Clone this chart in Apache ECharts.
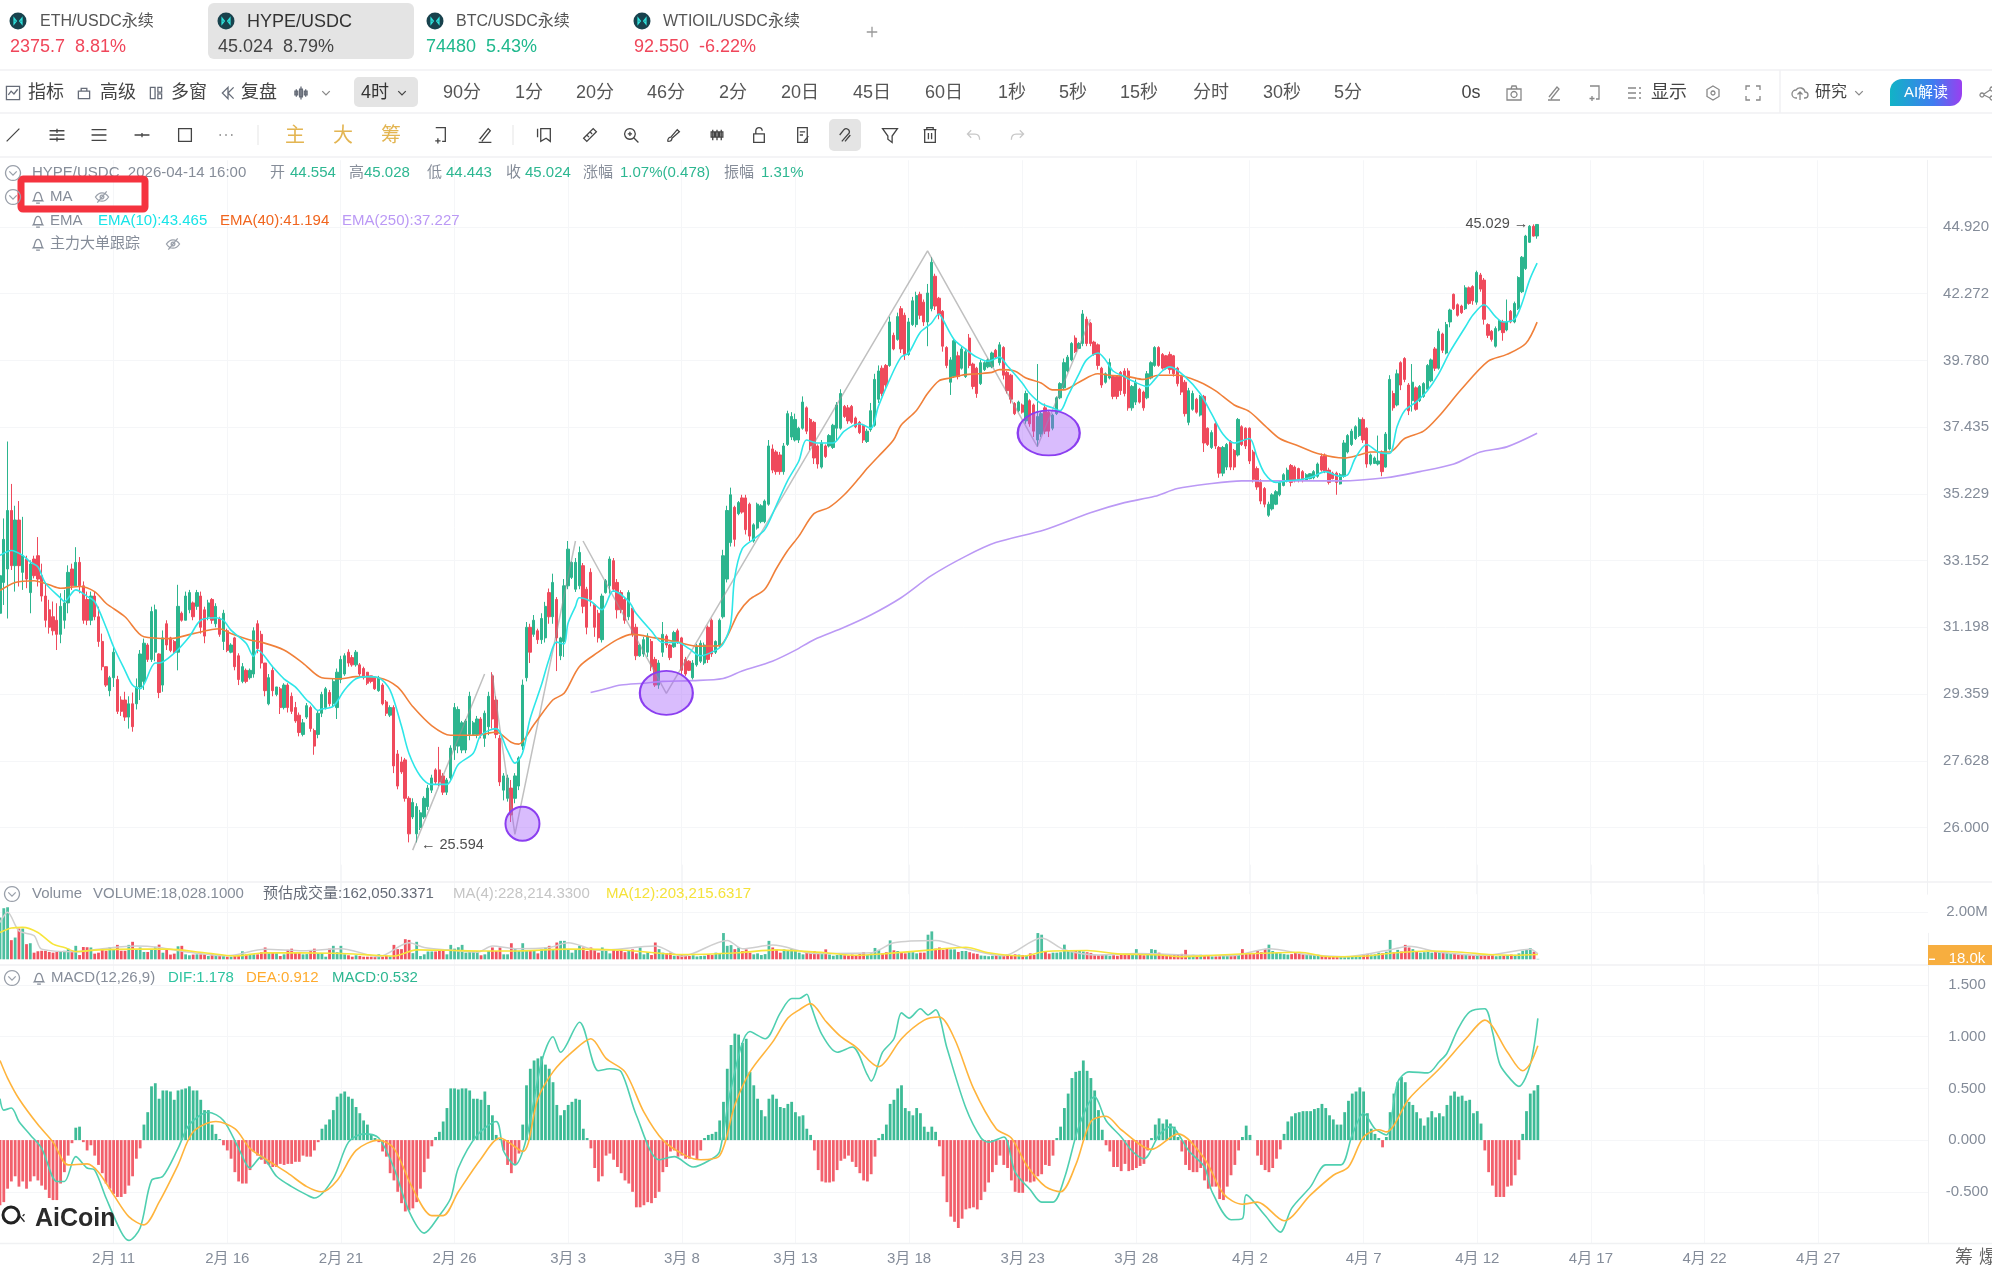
<!DOCTYPE html>
<html>
<head>
<meta charset="utf-8">
<title>HYPE/USDC</title>
<script src="https://cdn.jsdelivr.net/npm/echarts@6/dist/echarts.min.js"></script>
<style>
html,body{margin:0;padding:0;background:#fff;}
#chart{width:1992px;height:1271px;}
#icons{position:absolute;left:0;top:0;pointer-events:none;}
</style>
</head>
<body>
<div id="chart"></div>
<svg id="icons" width="1992" height="1271" xmlns="http://www.w3.org/2000/svg"></svg>
<script>
// 价格坐标刻度(对数)
var priceTicks = [26.000,27.628,29.359,31.198,33.152,35.229,37.435,39.780,42.272,44.920];

// K线 4小时, 2月6日 00:00 开始
var opens = [31.6,32.5,32.9,34.7,33.0,34.4,32.8,33.2,32.2,33.2,
33.3,32.7,32.1,31.7,31.5,31.4,31.0,31.4,31.9,32.9,
32.4,33.1,32.4,32.0,31.4,32.1,31.5,30.8,30.1,29.45,
29.8,29.75,29.2,29.2,28.75,29.1,29.1,29.55,29.7,30.7,
30.3,30.5,30.45,29.6,31.3,30.9,30.8,30.5,31.6,31.4,
31.7,31.9,31.8,32.1,31.7,31.5,32.0,31.3,31.45,30.8,
31.1,30.5,30.9,30.4,29.7,30.0,29.8,29.9,31.3,31.0,
30.2,29.1,30.0,29.35,29.5,29.0,29.6,29.3,29.0,28.8,
28.3,28.75,29.0,28.4,28.3,28.85,29.0,29.4,29.1,29.0,
29.75,29.9,30.5,30.35,30.15,30.15,30.05,29.95,29.85,29.8,
29.45,29.6,29.15,28.8,29.0,27.8,27.6,27.65,26.7,26.25,
25.85,26.0,26.25,26.5,26.9,27.4,27.4,27.25,26.85,27.2,
27.9,28.0,27.9,27.9,28.3,28.3,28.3,28.7,28.2,28.5,
29.85,29.2,28.2,26.9,26.7,26.95,26.7,27.0,28.0,29.8,
31.2,31.0,31.1,30.85,30.9,32.2,31.5,32.0,30.4,30.8,
32.4,32.65,32.3,32.4,33.0,32.3,32.8,31.85,31.6,30.85,
32.2,32.4,33.15,32.5,32.2,32.0,31.5,31.75,31.2,30.4,
30.45,30.5,30.8,30.3,29.6,30.5,30.95,30.7,30.65,31.1,
30.9,30.3,30.25,29.8,30.15,30.25,30.2,31.2,31.4,30.5,
30.7,31.5,32.6,33.7,34.8,34.6,35.1,35.1,34.9,33.75,
34.15,34.35,34.35,34.9,36.7,36.6,36.5,35.95,36.85,37.1,
37.0,37.0,37.4,38.1,37.7,37.6,36.8,36.1,36.8,36.8,
36.75,37.4,37.4,38.15,38.1,38.15,37.75,37.6,37.5,36.95,
37.35,37.5,38.4,39.5,39.6,39.6,40.7,40.55,41.7,41.45,
40.0,41.1,41.1,42.25,41.95,41.2,41.7,42.95,42.1,41.6,
40.25,39.0,39.2,39.95,39.5,39.2,40.6,39.65,39.5,38.95,
39.45,39.55,39.55,40.15,39.7,40.25,39.35,39.25,38.25,38.0,
38.2,37.65,38.35,38.2,37.0,37.2,38.1,37.95,37.4,37.9,
38.45,38.8,39.4,39.8,40.6,40.22,40.4,41.3,41.15,40.45,
40.35,39.5,39.0,39.15,39.2,39.2,39.35,39.4,39.4,38.1,
38.3,38.75,38.65,38.45,39.15,39.6,40.25,40.0,39.95,40.0,
39.95,39.5,39.2,39.0,37.6,38.05,38.4,37.85,38.5,37.4,
36.75,37.55,36.75,35.9,36.1,36.95,36.65,36.5,37.45,37.4,
37.4,36.6,36.05,35.6,35.4,34.55,34.75,34.9,35.2,35.5,
35.65,36.15,36.1,36.05,35.95,35.68,35.72,35.75,35.8,36.45,
36.5,36.0,35.9,35.9,35.55,35.8,36.6,36.85,37.05,37.15,
37.7,37.4,36.2,36.22,36.2,36.6,36.1,36.7,38.6,38.2,
39.7,39.85,38.9,38.35,38.8,38.35,38.5,38.75,39.05,40.2,
39.5,40.75,40.05,41.2,42.25,41.85,41.8,41.7,42.5,42.55,
41.95,43.0,42.8,41.1,40.85,40.3,40.9,41.2,40.9,41.6,
41.2,41.7,42.35,43.25,44.3,44.95,44.554];
var closes = [32.7,33.8,34.7,33.0,34.4,33.0,33.3,32.6,33.05,32.7,
32.6,32.1,31.4,31.2,31.1,31.0,31.8,31.9,32.8,32.4,
33.1,32.4,31.4,31.4,32.1,31.5,30.8,30.1,29.6,29.8,
30.5,28.9,28.9,28.75,29.1,28.5,29.55,30.45,30.75,30.3,
31.65,31.7,29.4,30.9,30.7,30.55,30.5,31.8,31.4,32.1,
32.2,31.5,32.2,31.2,30.95,31.9,31.4,31.8,31.0,31.6,
30.55,30.7,30.1,29.75,30.1,29.7,30.0,31.1,30.6,30.2,
29.45,29.8,29.45,29.55,29.0,29.6,29.0,28.9,28.65,28.35,
28.6,29.05,28.45,28.0,28.85,29.35,29.5,29.1,29.7,29.95,
30.3,30.4,30.2,30.15,30.5,29.9,29.8,29.65,29.7,29.5,
29.8,29.1,28.85,29.0,27.5,27.0,27.35,26.7,25.85,26.6,
26.5,26.35,26.7,26.95,27.2,27.1,27.1,26.85,27.15,27.95,
29.0,28.95,28.6,28.65,29.3,28.6,28.7,28.3,28.85,29.3,
28.7,28.3,27.1,27.25,27.2,26.3,27.25,27.7,29.6,31.2,
30.5,31.4,30.85,31.45,31.8,31.5,32.5,30.9,30.9,32.4,
33.5,33.1,33.1,33.4,31.8,31.2,32.0,31.2,30.9,32.1,
32.55,33.2,32.3,31.7,31.7,31.4,32.2,31.0,30.4,30.7,
30.85,30.95,30.1,29.6,30.2,31.0,30.7,30.35,31.05,30.8,
30.0,29.9,30.0,30.2,30.65,30.75,30.7,30.3,30.45,30.8,
31.4,33.3,34.7,35.2,33.8,34.95,34.65,34.1,33.9,34.25,
34.9,34.85,35.0,36.8,36.0,35.95,35.95,36.8,37.9,37.8,
37.7,37.4,38.3,37.3,36.8,36.4,36.2,36.9,36.45,37.15,
37.5,38.2,38.6,37.8,37.65,37.6,37.45,37.25,37.0,37.3,
38.0,39.1,39.4,38.6,38.9,41.2,40.2,41.4,40.2,40.0,
41.2,42.0,42.2,41.45,41.2,42.3,43.5,41.8,41.5,40.3,
39.6,39.8,40.5,39.2,40.2,40.1,39.6,38.85,38.6,39.7,
39.7,39.8,40.05,39.9,40.35,39.25,38.7,38.4,37.9,38.3,
37.95,38.6,37.55,37.3,37.8,37.9,37.3,37.3,37.85,38.45,
38.95,39.7,39.9,40.4,40.1,40.4,41.5,40.4,40.4,40.0,
39.6,38.9,39.3,39.7,38.5,38.5,38.7,38.6,38.1,38.85,
39.0,38.3,38.1,39.3,39.7,40.25,39.6,39.5,39.5,39.45,
39.3,38.95,38.65,37.9,38.7,38.6,37.95,38.5,36.9,36.85,
37.25,36.8,35.9,36.75,36.85,36.1,36.1,37.7,36.85,36.8,
36.3,35.7,35.45,35.0,34.9,34.9,35.2,35.3,35.6,35.85,
36.0,35.6,35.65,35.7,35.7,35.85,35.88,35.95,36.2,36.0,
35.95,35.6,35.72,35.6,35.85,36.9,37.15,37.3,37.45,37.7,
37.0,36.2,36.5,36.4,36.3,35.95,37.2,39.1,38.1,39.3,
38.9,39.1,38.0,39.0,38.05,38.85,38.95,39.6,39.8,39.5,
40.85,40.15,41.1,41.65,41.7,41.45,41.55,42.5,41.9,42.0,
43.1,42.45,41.3,40.7,40.55,40.95,41.25,40.8,41.2,41.2,
41.9,42.9,43.7,44.55,44.95,44.55,45.024];
var lows = [31.02,31.84,31.45,32.87,32.23,32.38,32.28,32.33,31.6,32.62,
32.38,31.94,31.2,31.02,30.97,30.56,30.75,31.16,31.6,32.28,
32.38,32.18,31.3,31.26,31.26,31.4,30.65,30.0,29.55,29.3,
29.55,28.83,28.78,28.65,28.45,28.37,28.95,29.2,29.47,30.23,
30.23,30.25,29.25,29.42,30.56,30.5,30.47,30.0,31.36,31.4,
31.6,31.4,31.7,31.02,30.75,31.4,31.3,31.2,30.93,30.56,
30.5,30.47,30.0,29.6,29.65,29.65,29.75,29.8,30.47,30.05,
29.3,29.06,29.3,29.3,28.83,28.95,28.87,28.83,28.6,28.25,
28.25,28.7,28.37,27.78,28.2,28.75,28.95,29.03,29.03,28.7,
29.65,29.85,30.1,30.1,30.1,29.85,29.75,29.6,29.65,29.47,
29.42,29.06,28.78,28.75,27.32,26.92,27.3,26.62,25.65,26.2,
25.65,25.94,26.2,26.42,26.83,27.03,27.0,26.78,26.78,27.12,
27.65,27.82,27.82,27.82,28.15,28.28,28.2,28.2,27.98,28.28,
28.45,28.2,27.0,26.65,26.62,26.13,26.58,26.9,27.9,29.7,
30.2,30.93,30.73,30.73,30.77,31.3,31.3,29.98,30.28,30.37,
32.3,32.6,32.22,32.3,31.6,31.0,31.8,30.93,30.77,30.77,
32.17,32.17,32.22,31.45,31.6,31.3,31.4,30.93,30.28,30.37,
30.37,30.37,29.98,29.55,29.5,30.37,30.62,30.28,30.62,30.73,
29.9,29.85,29.98,29.75,30.1,30.2,30.15,30.2,30.37,30.45,
30.62,31.45,32.5,33.58,33.58,34.55,34.6,33.95,33.75,33.7,
34.1,34.3,34.3,34.85,35.9,35.85,35.85,35.85,36.8,37.0,
36.95,36.9,37.35,37.2,36.66,36.2,36.05,36.05,36.4,36.75,
36.7,37.0,37.35,37.75,37.55,37.55,37.4,37.2,36.9,36.9,
37.28,37.45,38.27,38.5,38.8,39.55,40.15,40.5,40.05,39.8,
39.95,41.05,41.0,41.3,41.05,40.3,41.6,41.65,41.3,40.1,
39.5,38.55,39.15,39.1,39.45,39.15,39.5,38.75,38.45,38.9,
39.4,39.5,39.5,39.85,39.6,39.1,38.6,38.25,37.85,37.95,
37.9,37.55,37.45,37.1,36.78,37.1,37.2,37.1,37.33,37.85,
38.4,38.75,39.35,39.75,40.05,40.2,40.3,40.3,40.3,39.95,
39.45,38.8,38.95,39.1,38.4,38.4,38.55,38.5,38.0,38.0,
38.2,38.25,38.0,38.4,39.1,39.55,39.55,39.45,39.45,39.3,
39.2,38.85,38.55,37.8,37.5,38.0,37.9,37.8,36.6,36.8,
36.7,36.7,35.75,35.8,36.0,36.0,36.0,36.45,36.8,36.7,
36.2,35.6,35.36,34.9,34.8,34.5,34.7,34.87,35.15,35.47,
35.6,35.47,35.6,35.6,35.6,35.65,35.7,35.7,35.75,35.95,
35.9,35.53,35.7,35.2,35.53,35.75,36.55,36.8,37.0,37.1,
36.9,36.08,36.15,36.2,36.15,35.8,36.08,36.65,38.0,38.15,
38.72,39.0,37.85,37.97,38.0,38.3,38.45,38.7,39.0,39.4,
39.45,40.05,40.0,41.0,41.65,41.4,41.5,41.65,41.85,41.85,
41.85,42.35,41.1,40.6,40.47,40.25,40.85,40.5,40.85,41.15,
41.15,41.65,42.3,43.2,44.27,44.53,44.443];
var highs = [33.36,34.45,36.95,35.55,34.85,35.0,34.5,33.3,33.16,33.3,
33.87,33.06,32.48,31.99,31.94,31.89,32.18,32.28,33.01,33.06,
33.56,33.26,32.53,32.23,32.23,32.23,31.79,31.02,30.1,29.85,
30.65,29.85,29.3,29.42,29.3,29.4,29.78,30.56,30.88,30.75,
31.79,31.85,30.47,31.11,31.4,30.93,30.84,32.43,31.65,32.23,
32.28,31.94,32.28,32.23,31.79,31.99,32.04,31.89,31.5,31.7,
31.16,30.75,30.93,30.47,30.2,30.05,30.05,31.2,31.4,31.1,
30.2,29.9,30.1,29.55,29.55,29.65,29.65,29.4,29.15,28.87,
28.7,29.12,29.05,28.45,28.92,29.42,29.55,29.47,29.78,30.05,
30.4,30.47,30.58,30.42,30.56,30.2,30.1,29.95,29.85,29.8,
29.85,29.65,29.2,29.06,29.06,27.9,27.73,27.7,26.75,26.7,
26.58,26.42,26.75,27.03,27.28,27.44,27.98,27.32,27.2,28.02,
29.12,29.03,28.65,28.7,29.42,28.65,28.78,28.75,28.92,29.42,
29.95,29.3,28.28,27.32,27.28,27.15,27.32,27.74,29.75,31.35,
31.3,31.55,31.16,31.6,31.93,32.32,32.76,32.07,30.93,32.6,
33.75,33.13,33.23,33.58,33.08,32.37,32.92,31.88,31.7,32.17,
32.6,33.28,33.23,32.6,32.27,32.07,32.27,31.8,31.3,30.73,
30.93,31.03,30.87,30.37,30.28,31.35,31.0,30.73,31.1,31.16,
30.93,30.37,30.28,30.28,30.73,30.83,30.77,31.25,31.45,30.83,
31.45,33.48,34.85,35.43,34.85,35.0,35.2,35.2,34.95,34.3,
34.95,34.9,35.05,37.0,36.85,36.66,36.6,36.9,38.0,37.95,
37.9,37.45,38.5,38.15,37.75,37.65,36.85,37.0,36.85,37.2,
37.55,38.3,38.75,38.2,38.2,38.2,37.8,37.65,37.55,37.38,
38.27,39.3,39.6,39.6,39.65,41.4,40.8,41.55,41.8,41.55,
41.35,42.15,42.35,42.35,42.05,42.65,43.7,43.05,42.15,41.65,
40.3,39.9,40.6,40.1,40.3,40.2,40.75,39.7,39.55,39.8,
39.75,39.85,40.1,40.2,40.45,40.3,39.4,39.3,38.3,38.35,
38.25,38.7,38.4,38.25,39.65,37.98,38.25,38.0,37.9,38.5,
39.0,39.85,39.98,40.45,40.7,40.45,41.65,41.4,41.2,40.5,
40.4,39.55,39.35,39.85,39.25,39.25,39.4,39.5,39.5,38.9,
39.1,38.8,38.7,39.4,39.75,40.3,40.3,40.05,39.98,40.1,
39.98,39.55,39.25,39.08,38.8,38.7,38.45,38.55,38.55,37.43,
37.33,37.6,36.8,36.8,36.9,37.0,36.7,37.75,37.5,37.43,
37.43,36.67,36.12,35.7,35.45,34.98,35.25,35.35,35.65,35.9,
36.08,36.2,36.15,36.08,36.0,35.9,35.9,36.0,36.25,36.55,
36.55,36.08,35.95,35.95,35.9,37.0,37.2,37.38,37.5,37.77,
37.77,37.43,36.55,36.45,37.15,36.65,37.27,39.25,38.7,39.45,
39.75,39.9,38.97,39.65,38.85,38.9,39.0,39.65,39.85,40.27,
40.95,40.8,41.2,41.7,42.28,41.9,41.85,42.6,42.55,42.6,
43.17,43.08,42.88,41.15,40.9,41.03,41.28,41.28,42.05,41.65,
41.97,42.95,43.75,44.6,45.0,45.029,45.028];

// EMA, 只取折点 [序号, 价格]
var ema10 = [[0,33.31],[3,33.46],[6,33.31],[8,33.11],[10,32.97],[12,32.48],[16,32.04],[17,31.94],[20,32.28],[23,32.09],[25,31.94],[28,31.2],[30,30.65],[33,30.0],[35,29.6],[37,29.5],[41,30.2],[42,30.2],[46,30.47],[50,30.93],[53,31.4],[57,31.47],[59,31.4],[61,31.12],[65,30.75],[67,30.38],[68,30.56],[72,30.1],[75,29.77],[78,29.55],[81,29.2],[82,29.12],[84,28.92],[85,28.96],[88,29.03],[91,29.47],[94,29.77],[97,29.83],[100,29.8],[103,29.47],[106,28.53],[108,27.82],[111,27.25],[114,27.04],[118,27.04],[121,27.53],[125,27.82],[127,28.28],[131,28.45],[134,27.9],[136,27.57],[138,27.82],[140,28.7],[143,29.6],[145,30.3],[147,30.78],[149,30.73],[150,31.3],[152,31.8],[153,32.05],[156,31.95],[159,31.7],[162,32.25],[166,31.95],[168,31.6],[172,31.1],[175,30.77],[179,30.77],[182,30.6],[185,30.4],[189,30.55],[191,30.73],[193,31.3],[194,32.6],[196,33.5],[199,33.8],[202,34.1],[205,34.85],[208,35.65],[211,36.3],[213,37.0],[216,36.9],[220,36.9],[223,37.3],[227,37.55],[230,37.4],[232,38.15],[235,39.1],[238,39.9],[240,40.05],[243,40.8],[246,41.15],[248,41.5],[249,41.3],[252,40.55],[255,40.2],[258,39.9],[261,39.75],[264,39.9],[266,39.6],[270,38.97],[272,38.6],[275,38.25],[278,38.1],[280,38.0],[282,38.5],[285,39.3],[287,39.8],[290,40.05],[292,39.8],[294,39.4],[297,39.2],[299,39.05],[303,38.85],[305,39.1],[307,39.4],[309,39.55],[313,39.2],[317,38.6],[320,37.9],[323,37.2],[326,36.9],[330,37.05],[332,36.45],[334,35.9],[337,35.6],[340,35.65],[344,35.7],[347,35.8],[350,35.95],[354,35.8],[356,35.85],[358,36.4],[361,36.85],[364,36.6],[367,36.55],[369,37.45],[371,38.0],[374,38.3],[377,38.7],[380,39.3],[383,40.1],[387,41.0],[389,41.45],[392,41.85],[395,41.4],[397,41.2],[400,41.3],[402,41.9],[404,42.8],[406,43.465]];
var ema40 = [[0,32.26],[4,32.5],[9,32.55],[13,32.43],[16,32.33],[21,32.38],[25,32.23],[28,31.89],[33,31.5],[38,30.93],[45,30.88],[51,31.02],[58,31.16],[61,31.02],[66,30.84],[69,30.78],[75,30.56],[80,30.2],[85,29.8],[90,29.77],[94,29.83],[100,29.8],[105,29.55],[109,29.03],[114,28.53],[119,28.28],[126,28.28],[131,28.36],[135,28.1],[137,28.05],[141,28.55],[146,29.2],[149,29.38],[153,30.1],[158,30.5],[163,30.85],[167,31.0],[173,30.9],[179,30.78],[184,30.67],[190,30.68],[192,30.93],[195,31.6],[198,32.0],[202,32.3],[205,32.9],[208,33.45],[211,33.9],[215,34.6],[219,34.8],[223,35.2],[227,35.75],[229,36.05],[232,36.45],[236,37.0],[238,37.5],[242,38.0],[245,38.6],[248,39.05],[251,39.15],[254,39.25],[258,39.3],[262,39.35],[264,39.45],[268,39.4],[271,39.15],[275,38.97],[278,38.73],[281,38.73],[285,39.0],[290,39.3],[293,39.25],[298,39.2],[302,39.1],[306,39.25],[311,39.25],[317,39.0],[321,38.7],[326,38.2],[330,37.97],[334,37.5],[338,37.05],[343,36.8],[348,36.55],[355,36.4],[359,36.5],[362,36.6],[367,36.6],[371,37.05],[376,37.3],[380,37.8],[386,38.75],[393,39.75],[398,40.0],[403,40.4],[406,41.194]];
var ema250 = [[156,29.4],[160,29.5],[164,29.6],[170,29.65],[175,29.7],[183,29.72],[191,29.78],[196,29.98],[204,30.25],[210,30.55],[215,30.85],[223,31.2],[230,31.55],[238,32.05],[246,32.7],[255,33.28],[263,33.7],[276,34.1],[288,34.63],[297,34.95],[305,35.15],[311,35.4],[319,35.55],[328,35.65],[340,35.65],[354,35.65],[366,35.75],[375,35.95],[384,36.2],[391,36.6],[398,36.77],[406,37.227]];

// 灰色折线标注, '-' 处断开
var zigzag = [[109,25.47],[128,29.9],[129,'-'],[130,29.9],[136,25.84],[152,33.75],[153,'-'],[154,33.75],[176,29.38],[245,43.95],[274,36.78],[288,41.3]];
var ovalPoints = [[138,26.09],[176,29.39],[277,37.24]];
var lowMark = [[108,25.594]];
var highMark = [[405,45.029]];

// 成交量, 单位 k
var volumes = [1770,2160,2200,810,920,1300,1300,640,680,280,
340,360,360,310,280,310,340,360,450,370,
570,180,520,510,500,240,280,430,360,510,
430,610,360,360,610,740,430,500,310,310,
430,530,620,280,430,200,240,550,570,210,
170,200,210,210,210,140,210,210,170,170,
110,110,140,170,340,210,210,210,210,300,
500,260,280,260,140,210,400,450,280,260,
210,220,350,450,260,260,110,450,570,300,
570,210,170,110,170,140,110,110,110,90,
210,110,140,120,610,430,430,850,820,260,
740,140,210,330,330,330,430,350,210,610,
450,510,610,280,310,350,350,170,210,350,
500,350,500,210,210,680,430,350,680,350,
360,350,250,420,500,570,430,710,780,780,
430,280,420,570,500,350,500,430,280,500,
350,250,430,350,400,300,360,420,250,500,
210,300,180,710,430,280,260,280,150,140,
210,180,140,170,120,140,150,210,180,280,
250,1110,570,600,430,500,350,420,280,210,
250,180,220,780,500,430,280,420,350,430,
350,280,210,300,280,350,230,250,420,200,
150,180,220,170,160,200,180,230,300,180,
250,480,400,250,300,800,380,350,280,250,
300,300,250,280,280,1040,1180,450,500,400,
460,420,420,310,350,350,300,250,230,160,
150,130,150,170,180,140,200,160,210,200,
180,180,250,180,1110,1040,320,240,280,280,
300,620,380,390,380,350,330,300,270,170,
170,190,210,150,170,150,190,220,210,190,
430,200,170,210,430,400,280,220,200,170,
180,190,230,400,170,190,150,190,160,140,
120,120,130,140,160,210,170,190,430,220,
280,220,350,300,440,620,350,280,250,220,
200,220,280,240,210,180,230,220,190,170,
140,130,120,110,110,120,100,110,130,140,
180,230,200,210,280,260,320,820,300,400,
330,610,500,430,350,280,300,320,280,350,
300,310,280,250,260,200,180,210,170,160,
190,150,210,180,170,130,140,150,170,200,
190,250,360,410,470,320,18];
var volMa4 = [[0,1560],[2,1990],[5,1200],[9,1000],[11,430],[20,320],[27,450],[36,560],[42,500],[50,300],[60,150],[70,420],[80,360],[90,450],[100,120],[108,700],[112,500],[118,400],[126,300],[130,560],[136,450],[145,500],[150,700],[158,380],[173,560],[180,130],[192,800],[196,450],[204,600],[215,250],[230,280],[236,700],[247,800],[255,450],[265,150],[275,900],[281,400],[290,180],[300,250],[315,170],[325,150],[335,450],[345,200],[355,110],[367,400],[372,550],[380,300],[392,170],[404,430],[406,228]];
var volMa12 = [[0,1136],[3,1320],[6,1350],[10,1136],[14,640],[17,500],[20,330],[26,400],[35,430],[44,430],[54,280],[62,140],[70,280],[88,256],[95,210],[104,140],[110,400],[118,380],[128,350],[135,350],[150,430],[165,380],[180,200],[195,280],[205,400],[211,350],[218,280],[226,170],[233,230],[246,400],[255,510],[261,280],[270,140],[276,330],[287,370],[295,230],[306,185],[312,110],[322,185],[333,255],[343,300],[351,110],[361,140],[367,255],[377,350],[386,300],[393,200],[400,170],[406,203]];

// MACD 柱
var macdHist = [-.63,-.60,-.47,-.40,-.35,-.45,-.40,-.47,-.40,-.35,-.39,-.44,-.48,-.56,-.58,-.58,-.42,-.31,-.15,-.03,
.12,.13,-.02,-.10,-.05,-.15,-.24,-.32,-.42,-.47,-.52,-.55,-.55,-.52,-.44,-.35,-.18,-.08,
.15,.27,.52,.55,.40,.48,.48,.47,.39,.48,.49,.50,.52,.48,.48,.39,.29,.29,.15,.06,.01,
-.05,-.10,-.18,-.31,-.40,-.42,-.42,-.29,-.11,-.15,-.19,-.23,-.24,-.26,-.26,-.23,-.24,-.23,-.23,-.21,-.21,-.15,-.16,-.16,-.10,-.02,
.11,.15,.20,.29,.42,.45,.47,.42,.40,.32,.26,.19,.15,.06,.02,
-.02,-.11,-.16,-.32,-.39,-.50,-.61,-.69,-.68,-.66,-.60,-.47,-.31,-.18,-.06,
.03,.08,.18,.31,.50,.50,.49,.50,.50,.48,.40,.40,.39,.47,.34,.24,.05,.01,
-.10,-.24,-.32,-.23,-.13,
.15,.53,.69,.77,.79,.81,.73,.69,.56,.34,.24,.29,.34,.37,.40,.39,.11,.02,
-.08,-.27,-.40,-.35,-.15,-.13,-.19,-.26,-.32,-.39,-.42,-.50,-.65,-.65,-.63,-.60,-.61,-.56,-.50,-.31,-.26,-.11,-.10,-.16,-.15,-.18,-.18,-.15,-.19,-.10,
.02,.05,.06,.08,.19,.37,.69,.92,1.03,1.02,.94,.98,.66,.53,.40,.29,.23,.40,.44,.40,.32,.31,.35,.37,.27,.23,
.24,.11,.05,
-.10,-.29,-.40,-.41,-.41,-.40,-.29,-.20,-.18,-.15,-.21,-.26,-.32,-.39,-.40,-.33,-.16,
.02,.06,.15,.35,.39,.50,.53,.31,.28,.24,.31,.26,.13,.08,.13,.08,
-.06,-.35,-.60,-.74,-.79,-.85,-.76,-.67,-.66,-.65,-.67,-.58,-.50,-.41,-.31,-.24,-.15,-.24,-.27,-.39,-.50,-.51,-.51,-.40,-.41,-.40,-.35,-.33,-.24,-.25,-.15,
.02,.13,.31,.45,.60,.66,.67,.77,.67,.60,.48,.29,.10,
-.05,-.11,-.26,-.26,-.30,-.23,-.30,-.29,-.27,-.25,-.23,-.10,
.02,.15,.21,.16,.20,.16,.13,.03,
-.11,-.24,-.29,-.31,-.31,-.27,-.39,-.47,-.45,-.45,-.57,-.58,-.45,-.34,-.24,-.10,
.03,.14,.05,.00,
-.15,-.24,-.29,-.31,-.27,-.18,-.09,
.06,.18,.23,.26,.27,.28,.28,.28,.30,.31,.35,.31,.24,.20,.15,.15,.27,.38,.45,.47,.51,.47,.26,.11,.06,.02,
-.07,.03,
.27,.45,.56,.61,.56,.37,.34,.27,.21,.14,.22,.28,.22,.26,.23,.34,.43,.47,.42,.43,.38,.39,.26,.28,.16,
-.10,-.31,-.44,-.55,-.55,-.55,-.45,-.44,-.34,-.19,
.06,.28,.45,.48,.532];
var macdDif = [[0,.40],[1,.29],[3,.31],[5,.18],[8,.05],[11,-.08],[15,-.40],[17,-.40],[20,-.16],[23,-.27],[25,-.29],[28,-.56],[32,-.89],[34,-.97],[37,-.85],[40,-.39],[43,-.35],[47,-.08],[50,.15],[55,.27],[59,.19],[63,-.08],[66,-.27],[69,-.16],[73,-.35],[77,-.45],[81,-.53],[83,-.56],[88,-.37],[92,-.02],[96,.06],[100,.02],[104,-.27],[108,-.69],[112,-.90],[116,-.73],[119,-.56],[121,-.27],[126,.05],[131,.18],[133,-.11],[136,-.24],[139,.02],[143,.76],[146,1.0],[148,.85],[153,1.14],[158,.67],[161,.69],[164,.66],[168,.24],[174,-.19],[178,-.16],[183,-.26],[188,-.18],[190,-.11],[193,.50],[198,1.05],[202,.98],[206,1.23],[209,1.37],[211,1.37],[213,1.41],[214,1.31],[217,1.02],[221,.85],[225,.90],[229,.63],[230,.57],[233,.85],[236,.98],[238,1.23],[240,1.18],[243,1.27],[245,1.21],[247,1.26],[250,.89],[255,.31],[259,.02],[261,-.02],[265,.03],[268,-.31],[272,-.48],[275,-.60],[278,-.60],[281,-.37],[285,.15],[289,.42],[292,.19],[296,.03],[299,-.11],[302,-.18],[306,.05],[309,.13],[314,-.11],[318,-.26],[320,-.50],[325,-.77],[328,-.76],[329,-.53],[334,-.73],[338,-.89],[341,-.66],[346,-.45],[350,-.24],[354,-.24],[357,.05],[360,.26],[363,.11],[366,.05],[369,.56],[372,.66],[377,.65],[380,.76],[382,.84],[385,1.08],[388,1.24],[392,1.27],[394,1.05],[396,.73],[399,.58],[401,.52],[404,.73],[406,1.178]];
var macdDea = [[0,.77],[2,.60],[5,.40],[10,.15],[14,-.02],[18,-.24],[23,-.23],[26,-.31],[30,-.53],[34,-.74],[38,-.82],[42,-.60],[47,-.24],[51,.08],[57,.18],[62,.11],[66,-.08],[70,-.18],[76,-.32],[81,-.45],[85,-.50],[89,-.39],[94,-.10],[100,0],[104,-.08],[109,-.47],[114,-.73],[117,-.73],[121,-.50],[127,-.18],[132,.02],[138,-.11],[142,.40],[146,.66],[151,.85],[156,.98],[160,.79],[165,.66],[170,.27],[175,0],[181,-.15],[185,-.19],[190,-.15],[194,.34],[198,.66],[204,.95],[208,1.18],[211,1.26],[214,1.32],[218,1.15],[222,1.0],[226,.90],[232,.71],[234,.77],[238,.98],[244,1.16],[248,1.19],[252,.98],[257,.50],[263,.11],[267,.02],[271,-.24],[276,-.45],[280,-.50],[284,-.24],[288,.18],[292,.23],[296,.10],[304,-.09],[311,.06],[318,-.18],[323,-.52],[328,-.62],[332,-.60],[339,-.78],[346,-.53],[352,-.34],[356,-.26],[360,.03],[364,.10],[366,.08],[372,.40],[380,.69],[387,.98],[392,1.16],[398,.85],[402,.67],[404,.74],[406,.912]];

// 顶部栏文字
var tabs = ['ETH/USDC永续','HYPE/USDC','BTC/USDC永续','WTIOIL/USDC永续'];
var tabPrices = ['2375.7  8.81%','45.024  8.79%','74480  5.43%','92.550  -6.22%'];
var periods = ['90分','1分','20分','46分','2分','20日','45日','60日','1秒','5秒','15秒','分时','30秒','5分'];
var periodX = [462,529,595,666,733,800,872,944,1012,1073,1139,1211,1282,1348];

var upColor = '#2cb58e', downColor = '#ef4a5c';
var FONT = '"Liberation Sans","Noto Sans CJK SC"';
var GREY = '#6f7785';

// 横轴: 每根4小时
var categories = [];
for (var i = 0; i < 510; i++) {
  var d = new Date(Date.UTC(2026, 1, 6, i * 4));
  categories.push((d.getUTCMonth() + 1) + '月 ' + d.getUTCDate() + ' ' + d.getUTCHours());
}
function every30(idx) { return idx > 0 && idx % 30 === 0; }

// 价格取对数, 刻度 priceTicks 等距
var logStep = Math.log(priceTicks[9] / priceTicks[0]) / 9;
function toU(p) { return p === '-' ? '-' : Math.log(p / priceTicks[0]) / logStep; }
function priceLine(arr) { return arr.map(function (a) { return [a[0], toU(a[1])]; }); }

var candles = opens.map(function (o, k) {
  return [toU(o), toU(closes[k]), toU(lows[k]), toU(highs[k])];
});

// 顶部栏 / 图例文字画在 graphic 里, 小图标用一层 svg
var els = [];
function txt(x, y, s, fill, size, align, weight) {
  els.push({ type: 'text', x: x, y: y, z: 50, silent: true, style: {
    text: s, fill: fill || GREY, textAlign: align || 'left', textVerticalAlign: 'middle', align: align || 'left', verticalAlign: 'middle',
    font: (weight || 'normal') + ' ' + (size || 15) + 'px ' + FONT } });
}
function box(x, y, w, h, fill, r, z) {
  els.push({ type: 'rect', z: z || 10, silent: true, shape: { x: x, y: y, width: w, height: h, r: r || 0 }, style: { fill: fill } });
}
function hline(y, x1, x2) {
  els.push({ type: 'line', z: 5, silent: true, shape: { x1: x1 || 0, y1: y, x2: x2 || 1992, y2: y }, style: { stroke: '#f0f1f3', lineWidth: 1.5 } });
}
var svg = document.getElementById('icons');
function icon(cx, cy, size, d, color) {
  var p = document.createElementNS('http://www.w3.org/2000/svg', 'path');
  p.setAttribute('d', d);
  p.setAttribute('transform', 'translate(' + (cx - size / 2) + ',' + (cy - size / 2) + ') scale(' + size / 16 + ')');
  p.setAttribute('fill', 'none');
  p.setAttribute('stroke', color || '#666c78');
  p.setAttribute('stroke-width', 1.3);
  p.setAttribute('vector-effect', 'non-scaling-stroke');
  svg.appendChild(p);
}
var ICON = {
  chart: 'M1 1h14v14h-14z M3 10l3-4 3 3 4-5',
  senior: 'M2 6h12v8h-12z M5 6v-3h6v3',
  multi: 'M2 2h5v12h-5z M10 2h4v5h-4z M10 9h4v5h-4z',
  replay: 'M8 2l-6 6 6 6z M14 2l-6 6 6 6',
  bars: 'M3 4v8 M8 1v14 M13 4v8 M1.5 6h3v4h-3z M6.5 4h3v8h-3z M11.5 6h3v4h-3z',
  chev: 'M2 5l6 6 6-6',
  line: 'M2 14L14 2',
  lines3: 'M1 4h14 M1 8h14 M1 12h14 M8 2v4 M8 10v4',
  lines2: 'M1 3h14 M1 8h14 M1 13h14',
  cross: 'M1 8h14 M8 6v4',
  rect: 'M2 2h12v12h-12z',
  dots: 'M2 8h1 M7.5 8h1 M13 8h1',
  magnet: 'M4 2h9v12l-4-3-5 3z M1 2v8',
  rule: 'M2 11L11 2l3 3-9 9z M5 8l2 2 M8 5l2 2',
  zoom: 'M7 2a5 5 0 1 0 .01 0 M11 11l4 4 M5 7h4 M7 5v4',
  brush: 'M3 14c0-3 2-4 3-4l6-7 2 2-7 6c0 2-2 3-4 3',
  split: 'M4 3v10 M8 3v10 M12 3v10 M2.5 5h3v5h-3z M6.5 5h3v5h-3z M10.5 5h3v5h-3z',
  lock: 'M3 7h10v8h-10z M5 7v-3a3 3 0 0 1 6 0',
  memo: 'M3 1h9v14h-9z M5 5h5 M5 8h3 M9 14l4-5',
  snap: 'M5 14l7-8a3 3 0 0 0-5-3l-4 5 M8 14l5-6',
  filter: 'M1 2h14l-5 7v6l-4-3v-3z',
  trash: 'M2 3h12 M5 3v-2h6v2 M3 3v12h10v-12 M6.5 6v6 M9.5 6v6',
  undo: 'M5 3l-4 4 4 4 M1 7h8c3 0 5 2 5 6',
  redo: 'M11 3l4 4-4 4 M15 7h-8c-3 0-5 2-5 6',
  camera: 'M1 4h14v11h-14z M5 4l1-3h4l1 3 M8 6.5a3 3 0 1 0 .01 0',
  pen: 'M3 12L11 2l2 2-8 10 M2 15h12',
  back: 'M4 1h9v13h-3 M6 11v5 M3.5 13.5h5',
  list: 'M1 3h8 M1 8h8 M1 13h8 M12 3h2 M12 8h2 M12 13h2',
  gear: 'M8 1l6 3.5v7l-6 3.5-6-3.5v-7z M8 6a2 2 0 1 0 .01 0',
  full: 'M1 5v-4h4 M11 1h4v4 M15 11v4h-4 M5 15h-4v-4',
  cloud: 'M5 13h-1a4 4 0 0 1 0-8 5 5 0 0 1 9 2 3 3 0 0 1 0 6h-1 M8 15v-8 M5.5 9.5L8 7l2.5 2.5',
  share: 'M3 8a2 2 0 1 0 .01 0 M13 2a2 2 0 1 0 .01 0 M13 11a2 2 0 1 0 .01 0 M5 9l6-4 M5 10l6 3',
  bell: 'M3 12c2-2 1-9 5-9s3 7 5 9z M6 14.5h4',
  eye: 'M1 8c4-6 10-6 14 0c-4 6-10 6-14 0z M3 14L13 2 M8 6a2 2 0 1 0 .01 0',
  fold: 'M8 1a7 7 0 1 0 .01 0 M4.5 6.5L8 10l3.5-3.5',
  plus: 'M1 8h14 M8 1v14'
};

function coin(cx, cy) {
  els.push({ type: 'circle', z: 50, silent: true, shape: { cx: cx, cy: cy, r: 8.5 }, style: { fill: '#18424d' } });
  icon(cx, cy, 9, 'M1 3l4 5-4 5z M15 3l-4 5 4 5z', '#2fe2dc');
}

// 标签行
box(208, 3, 206, 56, '#e4e4e4', 6);
var tabIconX = [18, 226, 435, 642], tabTextX = [40, 247, 456, 663], tabPriceX = [10, 218, 426, 634];
var tabColor = ['#f0465a', '#444', '#1fb88d', '#f0465a'];
tabs.forEach(function (t, k) {
  coin(tabIconX[k], 21);
  txt(tabTextX[k], 22, t, k === 1 ? '#333' : '#555', k === 1 ? 18 : 16);
  txt(tabPriceX[k], 47, tabPrices[k], tabColor[k], 18);
});
icon(872, 32, 12, ICON.plus, '#999');
hline(70); hline(113); hline(157);

// 周期行
[[13, 'chart'], [84, 'senior'], [156, 'multi'], [228, 'replay'], [301, 'bars']].forEach(function (a) { icon(a[0], 93, 15, ICON[a[1]]); });
txt(28, 93, '指标', '#444', 18); txt(100, 93, '高级', '#444', 18); txt(171, 93, '多窗', '#444', 18); txt(241, 93, '复盘', '#444', 18);
icon(326, 93, 10, ICON.chev, '#888');
box(354, 77, 64, 30, '#e4e4e4', 5);
txt(361, 93, '4时', '#333', 18); icon(402, 93, 10, ICON.chev, '#444');
periods.forEach(function (p, k) { txt(periodX[k], 93, p, '#555', 18, 'center'); });
txt(1471, 93, '0s', '#444', 18, 'center');
[[1514, 'camera'], [1554, 'pen'], [1594, 'back'], [1635, 'list'], [1713, 'gear'], [1753, 'full'], [1800, 'cloud'], [1987, 'share']].forEach(function (a) { icon(a[0], 93, 16, ICON[a[1]], '#888'); });
txt(1669, 93, '显示', '#444', 18, 'center');
els.push({ type: 'line', z: 5, silent: true, shape: { x1: 1780, y1: 70, x2: 1780, y2: 113 }, style: { stroke: '#f0f1f3', lineWidth: 1.5 } });
txt(1831, 93, '研究', '#444', 16, 'center'); icon(1859, 93, 10, ICON.chev, '#888');
els.push({ type: 'rect', z: 10, silent: true, shape: { x: 1890, y: 79, width: 72, height: 27, r: [12, 4, 12, 0] },
  style: { fill: { type: 'linear', x: 0, y: 0, x2: 1, y2: 0, colorStops: [{ offset: 0, color: '#11b3c6' }, { offset: .6, color: '#3f7cf0' }, { offset: 1, color: '#9a3ff0' }] } } });
txt(1926, 93, 'AI解读', '#fff', 15, 'center');

// 画线工具行
[[13, 'line'], [57, 'lines3'], [99, 'lines2'], [142, 'cross'], [185, 'rect'], [226, 'dots'], [440, 'back'], [485, 'pen'], [545, 'magnet'], [590, 'rule'], [631, 'zoom'], [673, 'brush'], [717, 'split'], [759, 'lock'], [803, 'memo'], [890, 'filter'], [930, 'trash']].forEach(function (a) { icon(a[0], 135, 17, ICON[a[1]], '#444'); });
box(829, 119, 32, 32, '#e4e4e4', 5);
icon(845, 135, 17, ICON.snap, '#444');
icon(974, 135, 15, ICON.undo, '#c8c8c8'); icon(1017, 135, 15, ICON.redo, '#c8c8c8');
txt(295, 136, '主', '#e3b552', 20, 'center'); txt(343, 136, '大', '#e3b552', 20, 'center'); txt(391, 136, '筹', '#e3b552', 20, 'center');
[258, 513].forEach(function (x) { els.push({ type: 'line', z: 5, silent: true, shape: { x1: x, y1: 125, x2: x, y2: 145 }, style: { stroke: '#eee', lineWidth: 1.5 } }); });

// 主图图例
var G2 = '#2db791';
icon(13, 173, 17, ICON.fold, '#9aa0aa');
txt(32, 173, 'HYPE/USDC  2026-04-14 16:00', '#868d99');
[[270, '开', 290, '44.554'], [349, '高', 364, '45.028'], [427, '低', 446, '44.443'], [506, '收', 525, '45.024']].forEach(function (a) {
  txt(a[0], 173, a[1], '#868d99'); txt(a[2], 173, a[3], G2);
});
txt(583, 173, '涨幅', '#868d99'); txt(620, 173, '1.07%(0.478)', G2);
txt(724, 173, '振幅', '#868d99'); txt(761, 173, '1.31%', G2);
icon(13, 197, 17, ICON.fold, '#9aa0aa');
icon(38, 197, 15, ICON.bell, '#868d99'); txt(50, 197, 'MA', '#868d99'); icon(102, 197, 15, ICON.eye, '#9aa0aa');
els.push({ type: 'rect', z: 60, silent: true, shape: { x: 21, y: 179, width: 124, height: 30, r: 2 }, style: { fill: 'none', stroke: '#f5333f', lineWidth: 7 } });
icon(38, 221, 15, ICON.bell, '#868d99'); txt(50, 221, 'EMA', '#868d99');
txt(98, 221, 'EMA(10):43.465', '#18e4e8'); txt(220, 221, 'EMA(40):41.194', '#f0651e'); txt(342, 221, 'EMA(250):37.227', '#bb99f5');
icon(38, 244, 15, ICON.bell, '#868d99'); txt(50, 244, '主力大单跟踪', '#868d99'); icon(173, 244, 15, ICON.eye, '#9aa0aa');

// 成交量 / MACD 图例
hline(882); hline(965); hline(1243.5);
icon(12, 894, 17, ICON.fold, '#9aa0aa');
txt(32, 894, 'Volume', '#868d99'); txt(93, 894, 'VOLUME:18,028.1000', '#868d99');
txt(263, 894, '预估成交量:162,050.3371', '#666c78');
txt(453, 894, 'MA(4):228,214.3300', '#c5c5c5'); txt(606, 894, 'MA(12):203,215.6317', '#f5e23a');
icon(12, 978, 17, ICON.fold, '#9aa0aa');
icon(39, 978, 15, ICON.bell, '#868d99'); txt(51, 978, 'MACD(12,26,9)', '#868d99');
txt(168, 978, 'DIF:1.178', '#2ec4a0'); txt(246, 978, 'DEA:0.912', '#ffab2e'); txt(332, 978, 'MACD:0.532', G2);

// 成交量现价标签
box(1928, 945, 64, 20, '#f7ae3f', 0, 40);
box(1929, 958.5, 6, 1.5, '#fff', 0, 41);
txt(1967, 959, '18.0k', '#fff', 15, 'center');

// 水印
els.push({ type: 'circle', z: 50, silent: true, shape: { cx: 11, cy: 1215, r: 8 }, style: { fill: 'none', stroke: '#222', lineWidth: 3 } });
icon(22, 1218, 10, 'M2 2l10 12 M12 2l-3 3', '#222');
txt(35, 1219, 'AiCoin', '#2a2a2a', 25, 'left', 'bold');
txt(1964, 1258, '筹', '#666', 18, 'center'); txt(1988, 1258, '爆', '#666', 18, 'center');

var splitX = { show: true, interval: every30, lineStyle: { color: '#f5f6f8', width: 1 } };
var splitY = { show: true, showMinLine: false, showMaxLine: false, lineStyle: { color: '#f5f6f8', width: 1 } };
function xAxis(grid, labels) {
  return {
    type: 'category', gridIndex: grid, data: categories, boundaryGap: false,
    axisLine: { show: false }, axisTick: { show: false }, splitLine: splitX,
    axisLabel: { show: labels, interval: every30, margin: 8, color: '#848c99', fontSize: 15, fontFamily: FONT,
      formatter: function (v) { return v.split(' ').slice(0, 2).join(' '); } }
  };
}
function yLabel(fmt) {
  return { align: 'center', margin: 39, color: '#848c99', fontSize: 15, fontFamily: 'Liberation Sans', formatter: fmt };
}
var axisLine = { show: true, lineStyle: { color: '#f0f1f3' } };

var option = {
  animation: false,
  backgroundColor: '#fff',
  graphic: { elements: els },
  grid: [
    { left: 0, right: 64, top: 160.28, height: 733.94 },
    { left: 0, right: 64, top: 864.7, height: 94.6 },
    { left: 0, right: 64, top: 933.3, height: 310.2 }
  ],
  xAxis: [xAxis(0, false), xAxis(1, false), xAxis(2, true)],
  yAxis: [
    { type: 'value', gridIndex: 0, position: 'right', min: -1, max: 10, interval: 1, axisLine: axisLine, axisTick: { show: false }, splitLine: splitY,
      axisLabel: yLabel(function (v) { return v >= 0 && v <= 9 ? priceTicks[v].toFixed(3) : ''; }) },
    { type: 'value', gridIndex: 1, position: 'right', min: 0, max: 4000, interval: 2000, axisLine: { show: false }, axisTick: { show: false }, splitLine: splitY,
      axisLabel: yLabel(function (v) { return v === 2000 ? '2.00M' : ''; }) },
    { type: 'value', gridIndex: 2, position: 'right', min: -1, max: 2, interval: .5, axisLine: axisLine, axisTick: { show: false }, splitLine: splitY,
      axisLabel: yLabel(function (v) { return v > -1 && v < 2 ? v.toFixed(3) : ''; }) }
  ],
  series: [
    { type: 'candlestick', xAxisIndex: 0, yAxisIndex: 0, data: candles, barWidth: 2.8, z: 2,
      itemStyle: { color: upColor, color0: downColor, borderColor: upColor, borderColor0: downColor, borderWidth: 1 } },
    { type: 'line', xAxisIndex: 0, yAxisIndex: 0, data: zigzag.map(function (a) { return [a[0], toU(a[1])]; }), showSymbol: false, z: 3,
      lineStyle: { color: 'rgba(150,150,150,.6)', width: 1.5 } },
    { type: 'line', xAxisIndex: 0, yAxisIndex: 0, data: priceLine(ema250), showSymbol: false, z: 3, smooth: .3, lineStyle: { color: '#bb99f5', width: 1.6 } },
    { type: 'line', xAxisIndex: 0, yAxisIndex: 0, data: priceLine(ema40), showSymbol: false, z: 3, smooth: .3, lineStyle: { color: '#f0803a', width: 1.6 } },
    { type: 'line', xAxisIndex: 0, yAxisIndex: 0, data: priceLine(ema10), showSymbol: false, z: 3, smooth: .3, lineStyle: { color: '#2ee6e8', width: 1.6 } },
    { type: 'scatter', xAxisIndex: 0, yAxisIndex: 0, data: priceLine(ovalPoints), z: 4,
      symbol: 'path://M0 50a50 50 0 1 0 100 0a50 50 0 1 0-100 0z',
      symbolSize: function (v, p) { return [[34, 34], [53, 44], [62, 45]][p.dataIndex]; },
      itemStyle: { color: 'rgba(165,95,250,.42)', borderColor: '#8b3ef0', borderWidth: 2, opacity: 1 } },
    { type: 'scatter', xAxisIndex: 0, yAxisIndex: 0, data: priceLine(lowMark), symbolSize: 0, z: 5,
      label: { show: true, position: 'right', distance: 12, formatter: '← 25.594', color: '#222', fontSize: 14.5, fontFamily: 'Liberation Sans' } },
    { type: 'scatter', xAxisIndex: 0, yAxisIndex: 0, data: priceLine(highMark), symbolSize: 0, z: 5,
      label: { show: true, position: 'left', distance: 5, formatter: '45.029 →', color: '#222', fontSize: 14.5, fontFamily: 'Liberation Sans' } },

    { type: 'bar', xAxisIndex: 1, yAxisIndex: 1, data: volumes, barWidth: 2.8,
      itemStyle: { color: function (p) { return closes[p.dataIndex] >= opens[p.dataIndex] ? '#4cbf9f' : '#f0525f'; } } },
    { type: 'line', xAxisIndex: 1, yAxisIndex: 1, data: volMa4, showSymbol: false, smooth: .3, lineStyle: { color: '#cfcfcf', width: 1.5 } },
    { type: 'line', xAxisIndex: 1, yAxisIndex: 1, data: volMa12, showSymbol: false, smooth: .3, lineStyle: { color: '#f7e53b', width: 1.6 } },

    { type: 'bar', xAxisIndex: 2, yAxisIndex: 2, data: macdHist, barWidth: 2.8,
      itemStyle: { color: function (p) { return p.value >= 0 ? '#3dbb96' : '#f2606c'; } } },
    { type: 'line', xAxisIndex: 2, yAxisIndex: 2, data: macdDif, showSymbol: false, smooth: .3, z: 3, lineStyle: { color: '#4fcfb0', width: 1.6 } },
    { type: 'line', xAxisIndex: 2, yAxisIndex: 2, data: macdDea, showSymbol: false, smooth: .3, z: 3, lineStyle: { color: '#ffb43c', width: 1.6 } }
  ]
};

var chart = echarts.init(document.getElementById('chart'));
chart.setOption(option);
</script>
</body>
</html>
